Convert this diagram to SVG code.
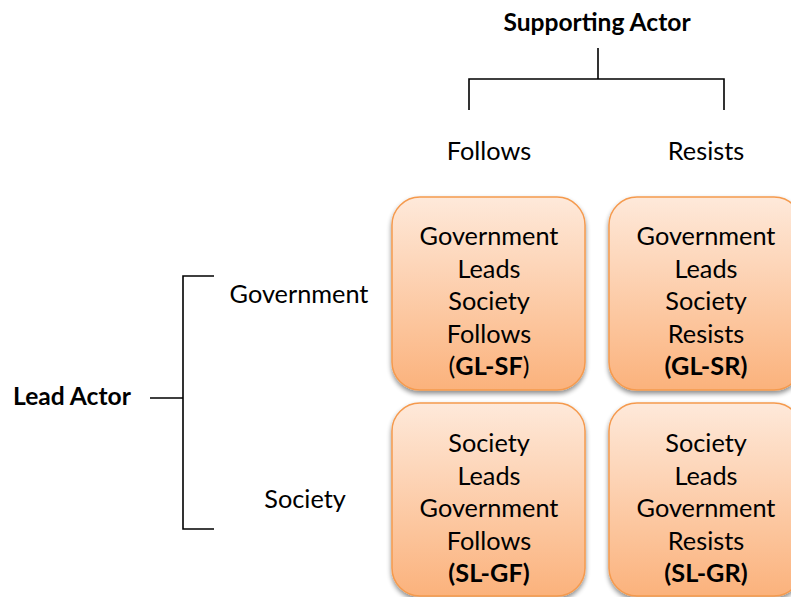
<svg xmlns="http://www.w3.org/2000/svg" width="791" height="597" viewBox="0 0 791 597">
  <defs>
    <linearGradient id="cellFill" x1="0" y1="0" x2="0" y2="1">
      <stop offset="0" stop-color="#FEE9DA"/>
      <stop offset="1" stop-color="#FBB27C"/>
    </linearGradient>
    <filter id="drop" x="-10%" y="-10%" width="120%" height="125%">
      <feGaussianBlur in="SourceAlpha" stdDeviation="2.5"/>
      <feOffset dx="0" dy="3" result="b"/>
      <feComponentTransfer><feFuncA type="linear" slope="0.45"/></feComponentTransfer>
      <feMerge><feMergeNode/><feMergeNode in="SourceGraphic"/></feMerge>
    </filter>
    <style>
      text { font-family: Lato, "Open Sans", "Liberation Sans", sans-serif; fill: #000; }
      .lbl { font-size: 25.3px; }
      .head { font-size: 24.6px; font-weight: bold; }
      .cell text { font-size: 25.3px; text-anchor: middle; }
      .cell .code { font-weight: bold; }
      .cell rect { fill: url(#cellFill); stroke: #F59A4E; stroke-width: 1.5; filter: url(#drop); }
      .bracket { fill: none; stroke: #000; stroke-width: 1.6; }
    </style>
  </defs>

  <rect width="791" height="597" fill="#fff"/>

  <!-- brackets -->
  <g id="connectors">
    <path class="bracket" d="M598 48 V79 M469 110 V79 H724 V110"/>
    <path class="bracket" d="M214 276 H183 V529 H214 M150 398 H183"/>
  </g>

  <!-- axis headings -->
  <g id="supporting-actor">
    <text class="head" x="597" y="31" text-anchor="middle">Supporting Actor</text>
  </g>
  <g id="col-follows"><text class="lbl" x="489" y="160" text-anchor="middle">Follows</text></g>
  <g id="col-resists"><text class="lbl" x="706" y="160" text-anchor="middle">Resists</text></g>

  <g id="lead-actor">
    <text class="head" x="13" y="405">Lead Actor</text>
  </g>
  <g id="row-government"><text class="lbl" x="299" y="303" text-anchor="middle">Government</text></g>
  <g id="row-society"><text class="lbl" x="305" y="508" text-anchor="middle">Society</text></g>

  <!-- quadrant cells -->
  <g id="gl-sf" class="cell">
    <rect x="392" y="197" width="193" height="193" rx="28"/>
    <text x="489" y="245">Government</text>
    <text x="489" y="277.5">Leads</text>
    <text x="489" y="310">Society</text>
    <text x="489" y="342.5">Follows</text>
    <text x="489" y="375">(<tspan class="code">GL-SF</tspan>)</text>
  </g>
  <g id="gl-sr" class="cell">
    <rect x="609" y="197" width="193" height="193" rx="28"/>
    <text x="706" y="245">Government</text>
    <text x="706" y="277.5">Leads</text>
    <text x="706" y="310">Society</text>
    <text x="706" y="342.5">Resists</text>
    <text x="706" y="375" class="code">(GL-SR)</text>
  </g>
  <g id="sl-gf" class="cell">
    <rect x="392" y="403" width="193" height="193" rx="28"/>
    <text x="489" y="452">Society</text>
    <text x="489" y="484.5">Leads</text>
    <text x="489" y="517">Government</text>
    <text x="489" y="549.5">Follows</text>
    <text x="489" y="582" class="code">(SL-GF)</text>
  </g>
  <g id="sl-gr" class="cell">
    <rect x="609" y="403" width="193" height="193" rx="28"/>
    <text x="706" y="452">Society</text>
    <text x="706" y="484.5">Leads</text>
    <text x="706" y="517">Government</text>
    <text x="706" y="549.5">Resists</text>
    <text x="706" y="582" class="code">(SL-GR)</text>
  </g>
</svg>
